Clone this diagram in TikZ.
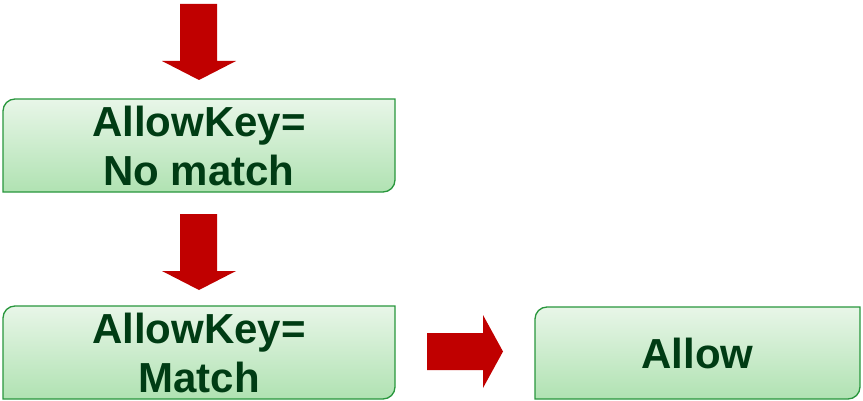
\documentclass[tikz,border=0pt]{standalone}
\usepackage{fontspec}
\setmainfont{Liberation Sans}
\usetikzlibrary{calc}
\definecolor{arrowred}{RGB}{192,0,0}
\definecolor{boxedge}{RGB}{40,150,60}
\definecolor{boxtop}{RGB}{232,246,232}
\definecolor{boxbot}{RGB}{176,226,178}
\definecolor{txtgreen}{RGB}{0,60,20}
\tikzset{
  boxlabel/.style={inner sep=0pt, align=center, text=txtgreen,
    font=\fontsize{42}{49}\selectfont\bfseries},
  boxframe/.style={draw=boxedge, line width=1.3pt, top color=boxtop, bottom color=boxbot},
  blockarrow/.style={fill=arrowred, draw=none}
}
\begin{document}
\begin{tikzpicture}[x=1pt,y=1pt]
\useasboundingbox (0,0) rectangle (863,400);
% box frames
\def\r{12}
\coordinate (b1nw) at (3,301); \coordinate (b1se) at (395,208);
\coordinate (b2nw) at (3,94);  \coordinate (b2se) at (395,1);
\coordinate (b3nw) at (535,93); \coordinate (b3se) at (860,1);
\foreach \n in {b1,b2,b3}{
  \path[boxframe] ($(\n nw)+(0,-\r)$) arc[start angle=180,end angle=90,radius=\r]
    -- (\n se|-\n nw) -- ($(\n se)+(0,\r)$) arc[start angle=0,end angle=-90,radius=\r]
    -- (\n nw|-\n se) -- cycle;
}
% labels
\node[boxlabel] (b1) at (199,254) {AllowKey=\\No match};
\node[boxlabel] (b2) at (199,47) {AllowKey=\\Match};
\node[boxlabel] (b3) at (697.5,47) {Allow};
% block arrows
\fill[blockarrow] (180,396) -- (217,396) -- (217,339) -- (236,339) -- (199,320)
  -- (162,339) -- (180,339) -- cycle;
\fill[blockarrow] (180,186) -- (217,186) -- (217,129) -- (236,129) -- (199,110)
  -- (162,129) -- (180,129) -- cycle;
\fill[blockarrow] (427,67) -- (483,67) -- (483,85) -- (503,48.5) -- (483,12)
  -- (483,30) -- (427,30) -- cycle;
\end{tikzpicture}
\end{document}
